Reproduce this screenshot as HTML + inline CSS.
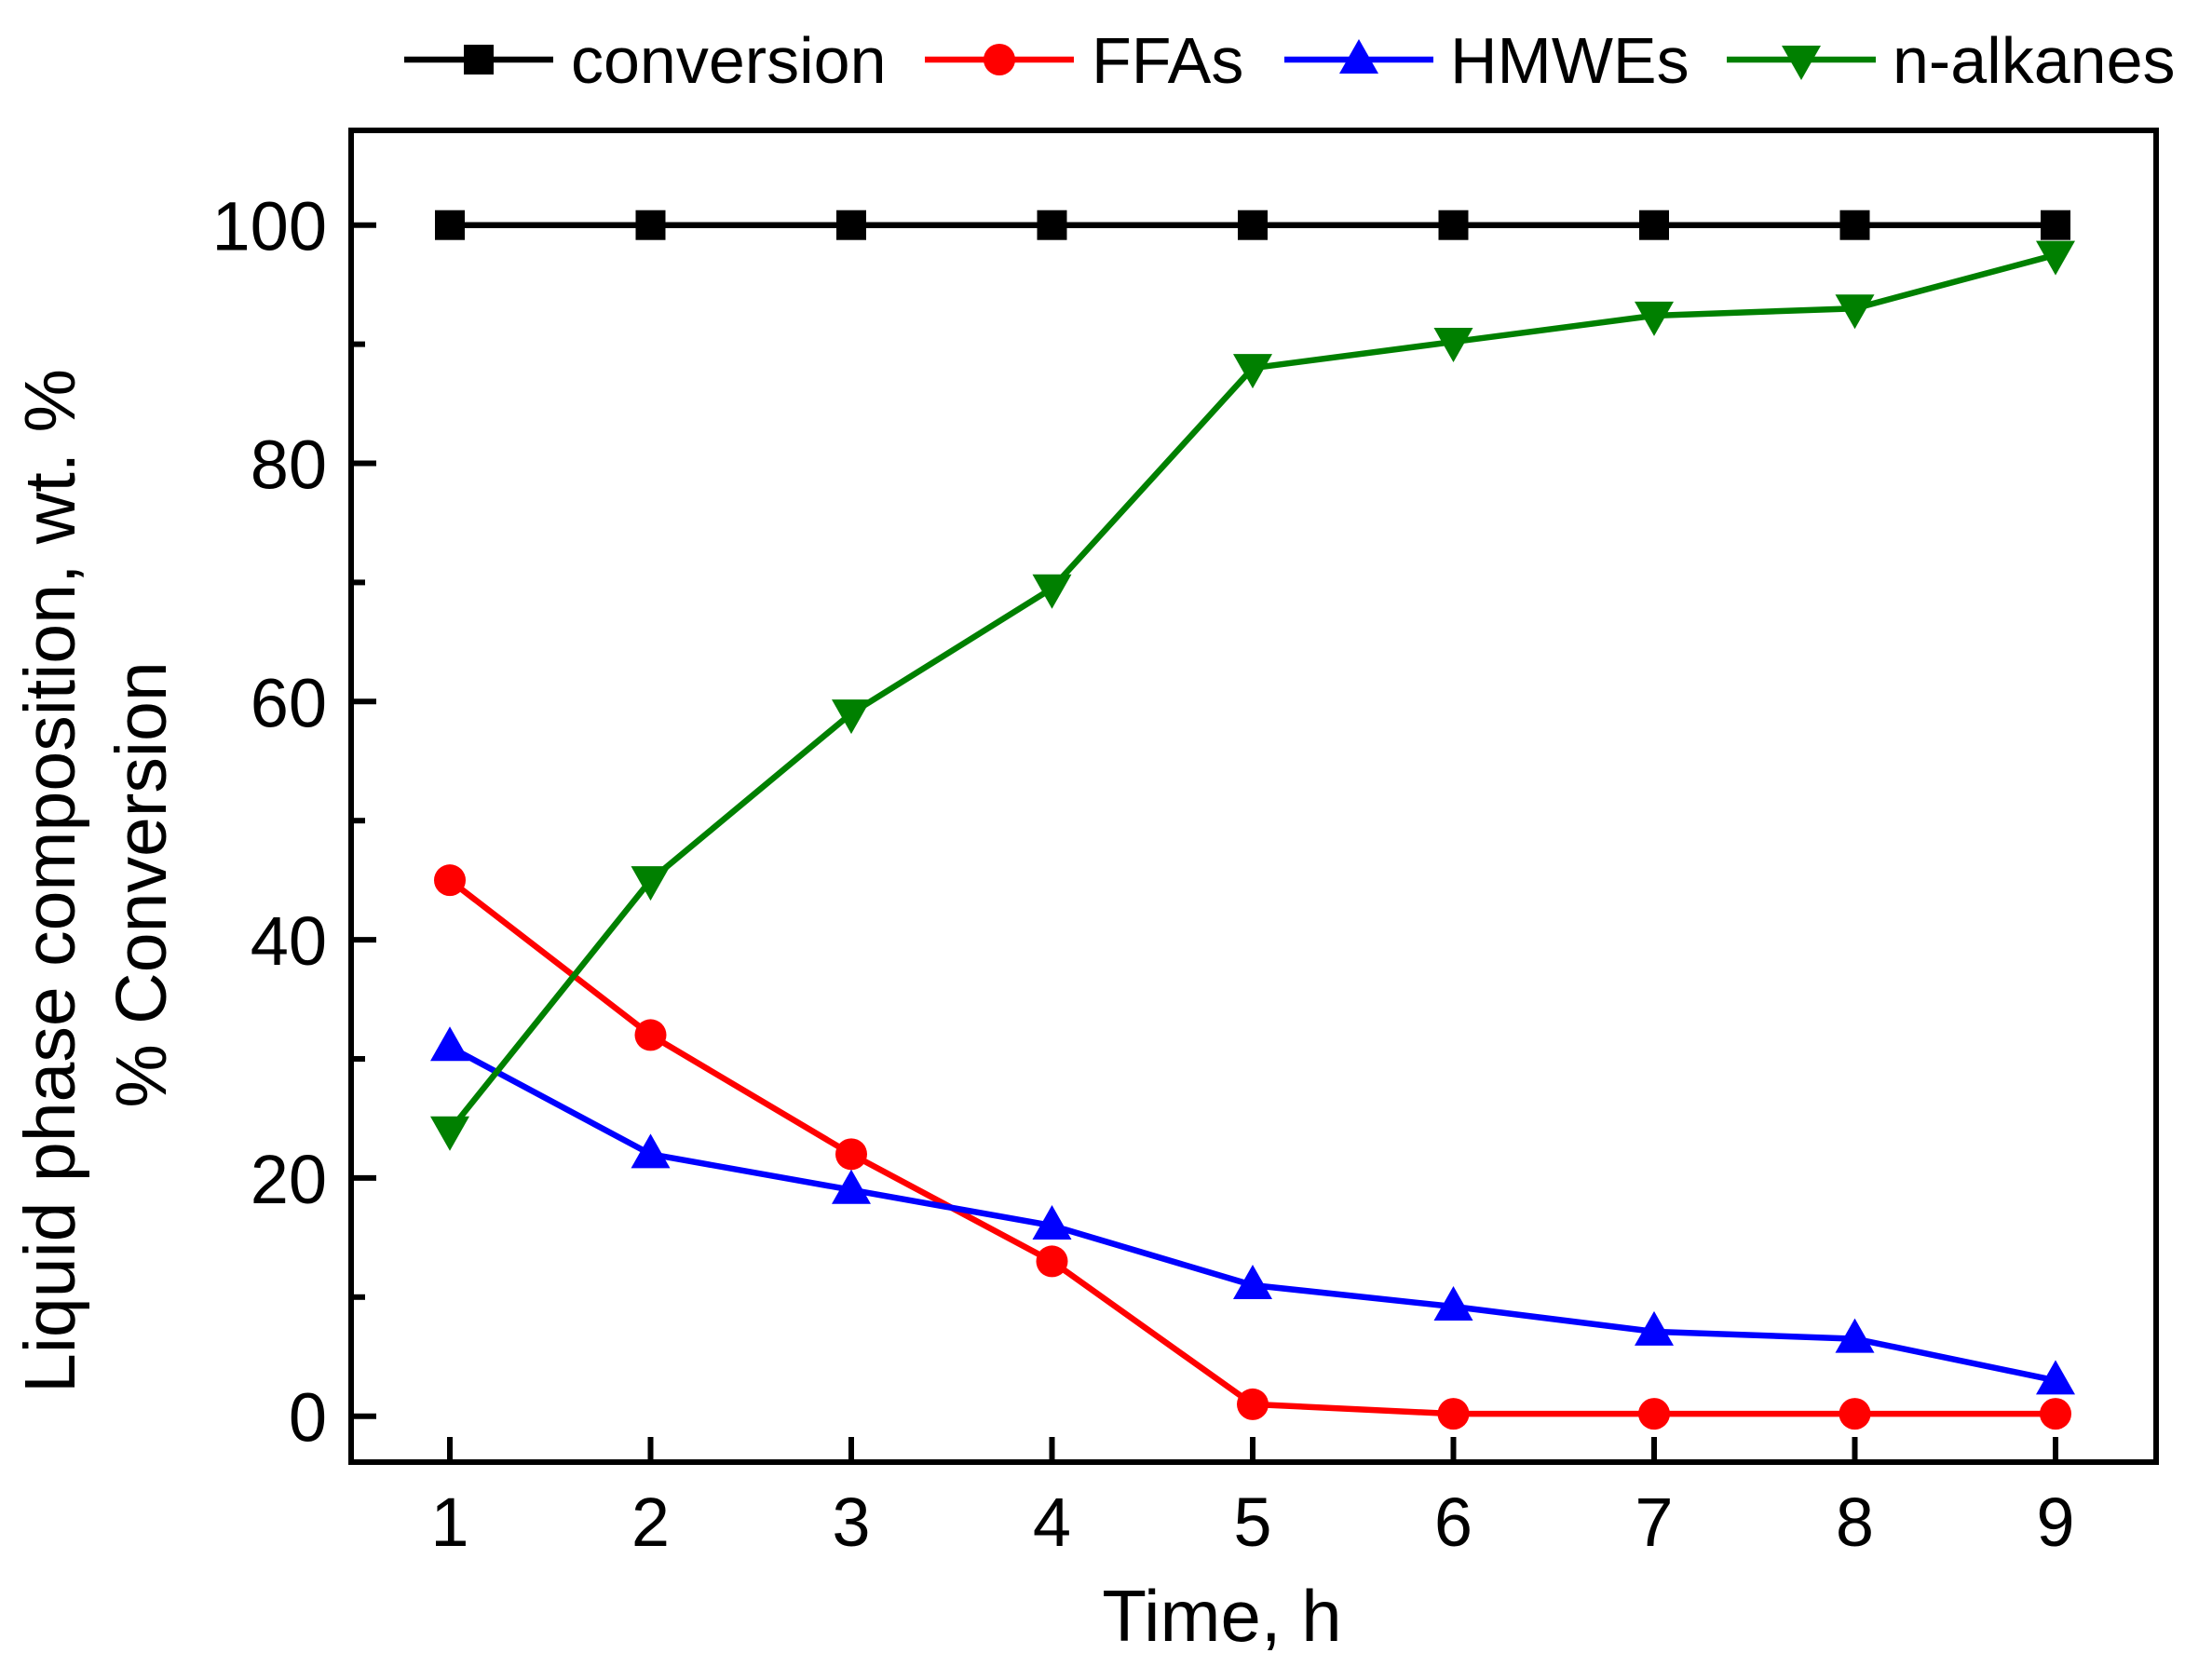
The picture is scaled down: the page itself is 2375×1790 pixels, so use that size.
<!DOCTYPE html>
<html><head><meta charset="utf-8"><style>
html,body{margin:0;padding:0;background:#fff;}
svg{display:block;font-family:"Liberation Sans",Arial,sans-serif;}
</style></head><body>
<svg id="chart" width="2375" height="1790" viewBox="0 0 2375 1790" xmlns="http://www.w3.org/2000/svg">
<g id="frame"></g><g id="series"></g><g id="legend"></g>
<text x="1312" y="1762" font-size="78" text-anchor="middle">Time, h</text>
<g transform="translate(80,946) rotate(-90)"><text x="0" y="0" font-size="77" text-anchor="middle">Liquid phase composition, wt. %</text></g>
<g transform="translate(178,950) rotate(-90)"><text x="0" y="0" font-size="77" text-anchor="middle">% Conversion</text></g>
</svg>
<script>
const times=[1,2,3,4,5,6,7,8,9];
const conversion=[100,100,100,100,100,100,100,100,100];
const ffas=[45,32,22,13,1,0.2,0.2,0.2,0.2];
const hmwes=[31,22,19,16,11,9.2,7.1,6.5,3];
const alkanes=[24,45,59,69.5,88,90.2,92.4,93,97.5];
const yTicks=[0,20,40,60,80,100];
const yMinor=[10,30,50,70,90];
const xTicks=[1,2,3,4,5,6,7,8,9];
const NS="http://www.w3.org/2000/svg";
const L=377,R=2315,T=140,B=1570;
const X=v=>483+(v-1)*215.5;
const Y=v=>1520.7-v*12.79;
function mk(tag,at,parent){const e=document.createElementNS(NS,tag);for(const k in at)e.setAttribute(k,at[k]);parent.appendChild(e);return e;}
const fr=document.getElementById('frame');
let r=mk('rect',{x:L,y:T,width:R-L,height:B-T,fill:'none',stroke:'#000','stroke-width':6},fr);


yTicks.forEach(v=>{
 let t=mk('line',{x1:L,x2:L+27,y1:Y(v),y2:Y(v),stroke:'#000','stroke-width':6},fr);
 
 
 let tx=mk('text',{x:L-26,y:Y(v)+27,'font-size':74,'text-anchor':'end'},fr);tx.textContent=v;
 
 
});
yMinor.forEach(v=>{
 let t=mk('line',{x1:L,x2:L+15,y1:Y(v),y2:Y(v),stroke:'#000','stroke-width':6},fr);
 
 
});
xTicks.forEach(v=>{
 let t=mk('line',{x1:X(v),x2:X(v),y1:B,y2:B-27,stroke:'#000','stroke-width':6},fr);
 
 
 let tx=mk('text',{x:X(v),y:B+90,'font-size':74,'text-anchor':'middle'},fr);tx.textContent=v;
 
 
});
function marker(type,cx,cy,color,g){
 let e;
 if(type==='sq')e=mk('rect',{x:cx-16,y:cy-16,width:32,height:32,fill:color},g);
 else if(type==='ci')e=mk('circle',{cx:cx,cy:cy,r:17,fill:color},g);
 else if(type==='up')e=mk('polygon',{points:`${cx},${cy-22} ${cx-21},${cy+15} ${cx+21},${cy+15}`,fill:color},g);
 else e=mk('polygon',{points:`${cx},${cy+22} ${cx-21},${cy-15} ${cx+21},${cy-15}`,fill:color},g);
 return e;
}
const S=document.getElementById('series');
const series=[[conversion,'#000','sq','conversion'],[ffas,'#ff0000','ci','ffas'],[hmwes,'#0000ff','up','hmwes'],[alkanes,'#008000','dn','n-alkanes']];
series.forEach(([d,c,m,n])=>{
 const g=mk('g',{},S);
 
 
 const p=mk('polyline',{points:d.map((v,i)=>X(times[i])+','+Y(v)).join(' '),fill:'none',stroke:c,'stroke-width':6.5},g);
 
 
 d.forEach((v,i)=>{const e=marker(m,X(times[i]),Y(v),c,g);
  
  });
});
const LG=document.getElementById('legend');
const leg=[[434,613,'conversion'],[993,1172,'FFAs'],[1379,1557,'HMWEs'],[1854,2032,'n-alkanes']];
leg.forEach(([lx,tx0,label],i)=>{
 const [d,c,m]=series[i];
 const g=mk('g',{},LG);
 
 
 mk('line',{x1:lx,x2:lx+160,y1:64,y2:64,stroke:c,'stroke-width':6.5},g);
 marker(m,lx+80,64,c,g);
 const t=mk('text',{x:tx0,y:89,'font-size':70},g);t.textContent=label;
});
</script>
</body></html>
